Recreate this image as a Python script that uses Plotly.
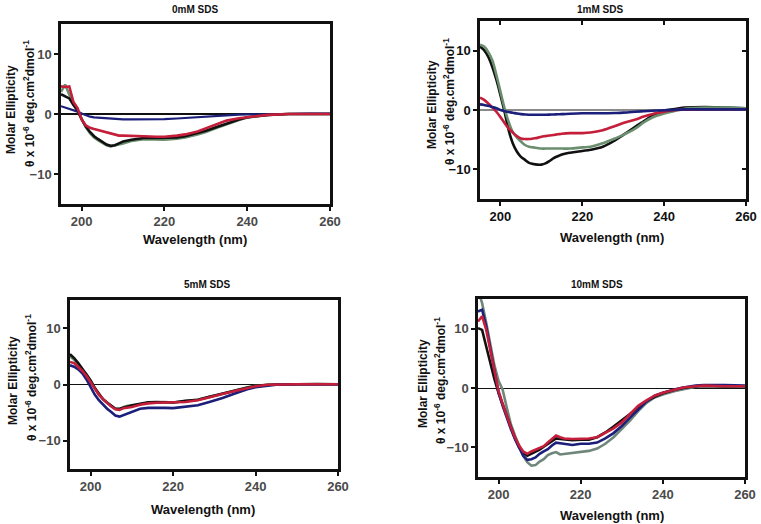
import plotly.graph_objects as go

# ---------------- data ----------------
panel_titles = ["0mM SDS", "1mM SDS", "5mM SDS", "10mM SDS"]
x_ticks = [200, 220, 240, 260]
y_ticks = [-10, 0, 10]

wl_0mM = [195, 196, 197, 198, 199, 200, 201, 202, 203, 204, 205, 206, 207, 208, 209, 210, 212, 215, 218, 220,
          223, 225, 228, 230, 233, 235, 238, 240, 243, 245, 250, 255, 260]
black_0mM = [3.3, 3.0, 2.6, 1.5, 0.6, -0.9, -2.1, -3.0, -3.7, -4.2, -4.7, -5.1, -5.3, -5.2, -4.9, -4.6, -4.3, -4.0,
             -4.0, -4.0, -3.9, -3.7, -3.2, -2.8, -2.1, -1.6, -0.9, -0.55, -0.3, -0.15, 0, 0, 0]
green_0mM = [3.7, 4.9, 3.2, 1.8, 0.6, -0.9, -2.2, -3.2, -3.9, -4.4, -4.8, -5.2, -5.4, -5.3, -5.1, -4.9, -4.5, -4.2,
             -4.2, -4.3, -4.1, -3.9, -3.4, -3.0, -2.2, -1.7, -1.0, -0.6, -0.3, -0.15, 0, 0, 0]
red_0mM = [4.6, 4.5, 4.6, 2.0, 1.0, -0.9, -1.9, -2.3, -2.5, -2.7, -2.8, -3.0, -3.2, -3.5, -3.6, -3.6, -3.6, -3.7,
           -3.8, -3.8, -3.6, -3.4, -2.9, -2.4, -1.6, -1.1, -0.7, -0.5, -0.3, -0.15, 0, 0, 0]
blue_0mM = [1.3, 1.1, 0.8, 0.6, 0.4, 0.1, -0.2, -0.45, -0.55, -0.6, -0.7, -0.75, -0.8, -0.85, -0.9, -0.9, -0.9, -0.9,
            -0.9, -0.85, -0.75, -0.65, -0.5, -0.4, -0.25, -0.15, -0.1, -0.05, 0, 0, 0, 0.05, 0.05]

wl_1mM = [195, 196, 197, 198, 199, 200, 201, 202, 203, 204, 205, 206, 207, 208, 209, 210, 211, 212, 213, 214, 215,
          217, 220, 222, 225, 228, 230, 233, 235, 237, 240, 243, 245, 250, 255, 260]
black_1mM = [10.7, 10.1, 9.0, 7.3, 5.1, 2.5, -0.3, -3.4, -5.6, -7.0, -7.9, -8.4, -8.9, -9.1, -9.2, -9.2, -9.0, -8.6,
             -8.1, -7.8, -7.5, -7.2, -6.9, -6.7, -6.2, -5.1, -4.2, -2.8, -1.9, -1.0, -0.1, 0.2, 0.4, 0.5, 0.4, 0.3]
green_1mM = [11.0, 10.7, 9.8, 8.4, 5.9, 3.1, 0.3, -2.0, -3.7, -4.6, -5.3, -5.9, -6.2, -6.3, -6.4, -6.5, -6.5, -6.5,
             -6.5, -6.5, -6.5, -6.5, -6.3, -6.2, -5.6, -4.8, -4.2, -3.1, -2.1, -1.3, -0.6, -0.1, 0.2, 0.4, 0.4, 0.3]
red_1mM = [2.1, 1.7, 1.1, 0.45, -0.3, -1.2, -2.2, -3.1, -3.8, -4.4, -4.8, -4.9, -4.9, -4.8, -4.7, -4.5, -4.4, -4.3,
           -4.2, -4.1, -4.0, -3.9, -3.9, -3.8, -3.4, -2.7, -2.2, -1.6, -1.1, -0.7, -0.3, 0.0, 0.05, 0.1, 0.1, 0.1]
blue_1mM = [0.95, 0.85, 0.7, 0.5, 0.3, 0.0, -0.2, -0.35, -0.45, -0.6, -0.7, -0.75, -0.8, -0.8, -0.8, -0.8, -0.8,
            -0.78, -0.75, -0.72, -0.7, -0.62, -0.55, -0.55, -0.55, -0.5, -0.45, -0.3, -0.2, -0.12, -0.05, 0.05, 0.1,
            0.1, 0.1, 0.1]

wl_5mM = [195, 196, 197, 198, 199, 200, 201, 202, 203, 204, 205, 206, 207, 208, 209, 210, 212, 214, 216, 218, 220,
          223, 226, 229, 232, 235, 238, 240, 243, 245, 250, 255, 260]
black_5mM = [5.4, 4.7, 3.8, 2.8, 1.8, 0.7, -0.6, -1.7, -2.6, -3.2, -3.7, -4.3, -4.3, -4.05, -3.9, -3.7, -3.4, -3.15,
             -3.1, -3.15, -3.2, -2.9, -2.7, -2.15, -1.6, -1.05, -0.5, -0.25, -0.05, 0, 0.05, 0.1, 0.05]
green_5mM = [5.0, 4.4, 3.5, 2.6, 1.8, 0.6, -0.7, -1.8, -2.6, -3.3, -3.8, -4.3, -4.4, -4.0, -3.8, -3.8, -3.5, -3.2,
             -3.2, -3.1, -3.2, -3.0, -2.7, -2.2, -1.6, -1.05, -0.5, -0.25, -0.05, 0, 0.05, 0.05, 0.05]
red_5mM = [4.0, 3.8, 3.1, 2.4, 1.5, 0.4, -0.9, -1.8, -2.6, -3.3, -3.9, -4.4, -4.5, -4.2, -4.1, -4.0, -3.6, -3.35,
           -3.25, -3.2, -3.2, -3.1, -2.8, -2.3, -1.7, -1.15, -0.6, -0.3, -0.05, 0, 0.05, 0.05, 0.05]
blue_5mM = [3.4, 3.15, 2.7, 2.0, 0.9, -0.5, -1.8, -2.8, -3.6, -4.3, -4.9, -5.5, -5.7, -5.4, -5.1, -4.8, -4.3, -4.15,
            -4.1, -4.15, -4.2, -4.0, -3.7, -3.05, -2.4, -1.6, -0.85, -0.5, -0.2, -0.05, 0.05, 0.1, 0.05]

wl_10mM = [195, 196, 197, 198, 199, 200, 201, 202, 203, 204, 205, 206, 207, 208, 209, 210, 211, 212, 213, 214, 215,
           216, 218, 220, 222, 224, 226, 228, 230, 232, 234, 236, 238, 240, 243, 245, 248, 250, 255, 260]
green_10mM = [16.5, 14.3, 11.0, 7.6, 3.8, 1.2, -0.3, -3.3, -6.1, -8.0, -9.7, -11.4, -12.5, -13.1, -13.0, -12.4,
              -12.0, -11.3, -11.0, -10.8, -11.2, -11.1, -11.0, -10.8, -10.6, -10.2, -9.4, -8.3, -6.9, -5.5, -3.9,
              -2.5, -1.6, -1.1, -0.5, -0.2, 0.2, 0.3, 0.2, 0.3]
black_10mM = [10.1, 9.8, 7.0, 4.0, 1.5, -0.8, -2.7, -4.7, -6.6, -8.5, -10.0, -10.9, -11.4, -11.1, -10.7, -10.4,
              -9.9, -9.4, -8.9, -8.5, -8.6, -8.7, -8.8, -8.7, -8.7, -8.3, -7.5, -6.5, -5.5, -4.4, -3.3, -2.2, -1.5,
              -0.9, -0.3, 0.0, 0.3, 0.4, 0.3, 0.3]
blue_10mM = [12.9, 13.2, 10.4, 6.5, 2.6, -0.8, -3.0, -5.0, -6.9, -8.6, -10.0, -11.4, -12.1, -12.0, -11.7, -11.1,
             -10.7, -10.3, -9.7, -9.2, -9.3, -9.4, -9.6, -9.4, -9.4, -9.2, -8.5, -7.6, -6.4, -5.0, -3.6, -2.3, -1.3,
             -0.8, -0.2, 0.1, 0.4, 0.5, 0.5, 0.4]
red_10mM = [11.2, 12.1, 9.8, 6.2, 2.8, -0.5, -2.7, -4.7, -6.6, -8.3, -9.7, -10.7, -11.1, -10.7, -10.4, -10.2, -9.8,
            -9.2, -8.6, -8.0, -8.3, -8.5, -8.6, -8.6, -8.5, -8.3, -7.6, -6.8, -5.8, -4.4, -3.0, -2.1, -1.3, -0.8,
            -0.2, 0.1, 0.3, 0.4, 0.3, 0.3]

# ---------------- style ----------------
BLACK = "#111111"
RED = "#c41e3a"
NAVY = "#1b1f7a"
GREEN = "#6a8f6e"
GREEN2 = "#6f877a"
FONT = "Arial, Liberation Sans, sans-serif"

fig = go.Figure()

def add(x, y, color, ax, width=2.6, shape="linear"):
    fig.add_trace(go.Scatter(x=x, y=y, mode="lines", xaxis="x" + ax, yaxis="y" + ax,
                             line=dict(color=color, width=width, shape=shape),
                             showlegend=False, hoverinfo="skip"))

# panel 1
add(wl_0mM, green_0mM, GREEN, "")
add(wl_0mM, black_0mM, BLACK, "")
add(wl_0mM, blue_0mM, NAVY, "", width=2.2)
add(wl_0mM, red_0mM, RED, "")
# panel 2
add(wl_1mM, black_1mM, BLACK, "2", shape="spline")
add(wl_1mM, green_1mM, GREEN, "2", shape="spline")
add(wl_1mM, red_1mM, RED, "2", shape="spline")
add(wl_1mM, blue_1mM, NAVY, "2", shape="spline")
# panel 3
add(wl_5mM, green_5mM, GREEN, "3")
add(wl_5mM, black_5mM, BLACK, "3")
add(wl_5mM, blue_5mM, NAVY, "3")
add(wl_5mM, red_5mM, RED, "3")
# panel 4
add(wl_10mM, green_10mM, GREEN2, "4")
add(wl_10mM, black_10mM, BLACK, "4")
add(wl_10mM, blue_10mM, NAVY, "4")
add(wl_10mM, red_10mM, RED, "4")
# inward mirror ticks of panel 2
fig.add_trace(go.Scatter(x=[None], y=[None], xaxis="x5", yaxis="y5", mode="lines",
                         showlegend=False, hoverinfo="skip"))

W, H = 761, 524
# plot frames in pixels: (left, right, top, bottom)
frames = [(61, 330, 24, 204), (480, 746, 21, 199), (70, 338, 300, 469), (478, 745, 299, 477)]
zero_style = [(BLACK, 2), ("#8a8a8a", 2), (BLACK, 1), (BLACK, 1)]
tick_color = ["#4a4a4a", "#111111", "#4a4a4a", "#4a4a4a"]

layout = dict(width=W, height=H, autosize=False, margin=dict(l=0, r=0, t=0, b=0, pad=0),
              paper_bgcolor="white", plot_bgcolor="white", showlegend=False)

for i, (l, r, t, b) in enumerate(frames):
    sfx = "" if i == 0 else str(i + 1)
    xd = [l / W, r / W]
    yd = [1 - b / H, 1 - t / H]
    layout["xaxis" + sfx] = dict(domain=xd, range=[195, 260], anchor="y" + sfx, tickvals=x_ticks,
                                 ticks="outside", ticklen=4, tickwidth=2, tickcolor=BLACK,
                                 showline=True, linewidth=2.5, linecolor=BLACK, mirror=True,
                                 showgrid=False, zeroline=False, automargin=False,
                                 tickfont=dict(family=FONT, size=13, color=tick_color[i], weight="bold"))
    layout["yaxis" + sfx] = dict(domain=yd, range=[-15, 15], anchor="x" + sfx, tickvals=y_ticks,
                                 ticks="outside", ticklen=4, tickwidth=2, tickcolor=BLACK,
                                 showline=True, linewidth=2.5, linecolor=BLACK, mirror=True,
                                 showgrid=False, zeroline=True, zerolinecolor=zero_style[i][0],
                                 zerolinewidth=zero_style[i][1], automargin=False,
                                 tickfont=dict(family=FONT, size=13, color=tick_color[i], weight="bold"))

layout["xaxis5"] = dict(overlaying="x2", anchor="y2", side="top", range=[195, 260], tickvals=x_ticks,
                        ticks="inside", ticklen=4, tickwidth=2, tickcolor=BLACK, showticklabels=False,
                        showline=False, showgrid=False, zeroline=False)
layout["yaxis5"] = dict(overlaying="y2", anchor="x2", side="right", range=[-15, 15], tickvals=[-10, 10],
                        ticks="inside", ticklen=4, tickwidth=2, tickcolor=BLACK, showticklabels=False,
                        showline=False, showgrid=False, zeroline=False)

# annotations: titles, axis titles
ylab2 = "θ x 10<sup>-6</sup> deg.cm<sup>2</sup>dmol<sup>-1</sup>"
title_pos = [(195, 9), (600, 9), (207, 284), (597, 284)]
xt_pos = [(195, 239), (612, 237), (203, 509), (612, 515)]
yt_pos = [(11, 29, 110, 104), (432, 449, 105, 102), (13, 31, 381, 378), (423, 440, 384, 381)]

ann = []
def note(text, px, py, size, angle=0):
    ann.append(dict(text=text, x=px / W, y=1 - py / H, xref="paper", yref="paper",
                    xanchor="center", yanchor="middle", showarrow=False, textangle=angle,
                    font=dict(family=FONT, size=size, color=BLACK, weight="bold")))

for i in range(4):
    note(panel_titles[i], title_pos[i][0], title_pos[i][1], 10)
    note("Wavelength (nm)", xt_pos[i][0], xt_pos[i][1], 13)
    x1, x2, y1, y2 = yt_pos[i]
    note("Molar Ellipticity", x1, y1, 12, -90)
    note(ylab2, x2, y2, 12, -90)

layout["annotations"] = ann
fig.update_layout(**layout)
fig.write_html(
    "out.html",
    config={"displayModeBar": False},
    post_script=("document.body.style.margin='0px';"
                 "document.body.style.overflow='hidden';"
                 "document.documentElement.style.overflow='hidden';"),
)
